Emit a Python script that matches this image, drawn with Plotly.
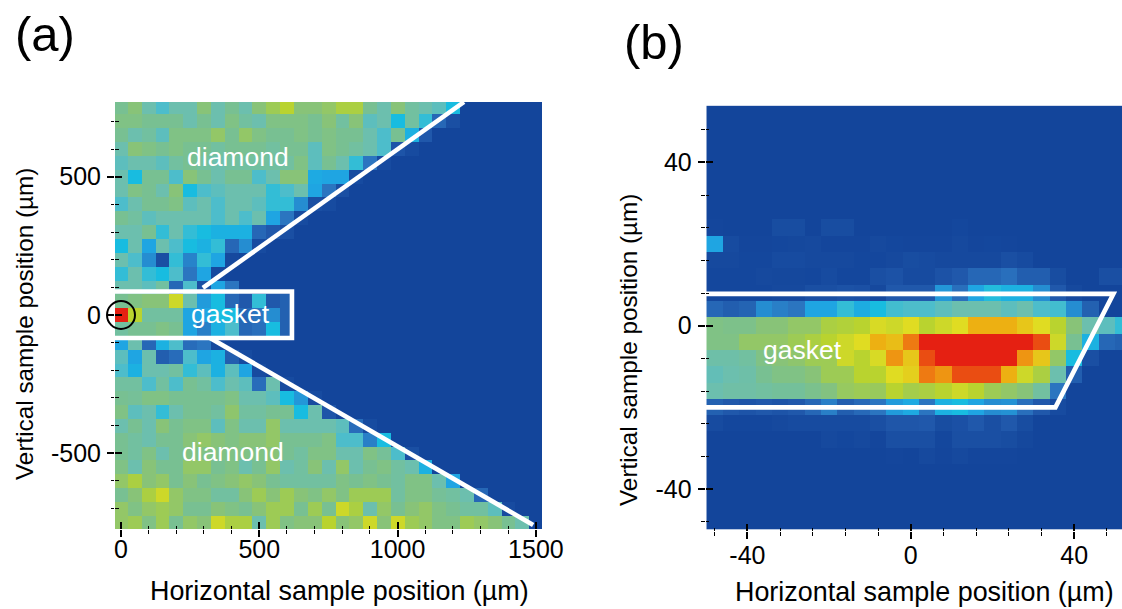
import plotly.graph_objects as go

# ---------- colour scale (value -> colour) ----------
scale_values = [0, 1, 2, 3, 4, 5, 6, 7, 8, 9, 10, 11, 12, 13, 14]
scale_colors = ["#13459B", "#2058AB", "#2B75C0", "#1FA5E2", "#18BCE0", "#4DBDCB", "#6CBFAE", "#78C092",
                "#88C378", "#9DCB55", "#B9D32F", "#E0DC22", "#EDB012", "#EE7A12", "#E52012"]

# ---------- panel (a) ----------
a_x = list(range(0, 1550, 50))
a_y = list(range(750, -800, -50))
a_rows = [
    [7, 8, 6, 5, 6, 6, 8, 6, 7, 6, 8, 9, 10, 8, 8, 8.5, 9.5, 9.5, 7, 6, 8, 6.5, 6, 5.5, 4],
    [7.5, 7.5, 7, 7, 7, 6, 7, 6, 7.5, 6.5, 6, 7.5, 7.5, 7.5, 7, 8, 6.5, 8, 5.5, 6, 4, 6.5, 4.5, 1.5, 0.5],
    [7, 6, 6.5, 5.5, 7.5, 7.5, 7.5, 8.5, 7, 8.5, 7.5, 7, 7, 7.5, 7, 7.5, 7, 7, 6, 5, 7, 3.5, 1],
    [6, 8, 7.5, 7, 7.5, 7, 7, 6.5, 7, 7, 7, 6.5, 7, 7, 5.5, 7.5, 7, 6.5, 6, 5, 0.8, 0.3],
    [5.5, 6, 6, 5.5, 6.5, 7, 6.5, 6, 6.5, 6.5, 6.5, 6.5, 6.5, 7.5, 5.5, 7, 6, 4.5, 2, 0.3],
    [6, 4, 7, 7, 5, 8, 7, 6, 7, 7, 5, 6, 8, 8, 3.2, 3, 3, 0.3],
    [6, 7.5, 7, 6, 8, 4, 5, 5.5, 6, 6, 6, 4.5, 5, 6, 3, 2, 0.5],
    [5, 6, 7, 7, 7.5, 5.5, 6, 5, 6, 6, 5.5, 4.5, 4.5, 2.5, 0.5, 0.3],
    [7, 6.5, 5.5, 6, 6, 6, 6, 5, 6, 5, 6, 3, 2, 0.3],
    [6, 6, 7, 4.5, 6, 4.5, 4, 3.5, 3.5, 3.5, 1.5, 1, 0.5],
    [4, 6, 3, 6, 5, 4, 3.5, 4.5, 1.5, 2.5, 0.3],
    [6, 5, 2.5, 0.5, 4.5, 2.3, 4.5, 3, 0.2],
    [4.5, 6, 4.5, 4, 5, 2, 3, 0.2],
    [6, 6, 5.5, 6.5, 1.5, 5, 0.5, 3, 2],
    [7, 7.5, 8, 8, 10.5, 6, 2.8, 4, 1.5, 1, 4.5, 1, 1.3],
    [14, 10, 6.5, 6.5, 6.5, 3, 3, 4, 4, 1.5, 2, 2.5, 1.3],
    [6.5, 7, 7, 7.5, 7, 3, 2.2, 3.5, 5, 1.5, 1.8, 4, 1.3],
    [3, 6, 1.5, 3.5, 5, 1.7, 2, 0.2],
    [5.5, 3, 6, 1.2, 1.7, 5, 3, 3.5, 1.2, 0.3],
    [5, 3.5, 6, 6, 6.5, 4.5, 5.5, 3.5, 5.5, 3, 0.3],
    [6.5, 6.5, 5, 6.5, 5, 7, 6.5, 5, 6, 5.5, 1.7, 6, 0.3],
    [7, 6.8, 7.5, 7.5, 7, 7, 7, 7, 7.5, 6, 6, 5.5, 4, 2.7, 0.3],
    [7.5, 5.5, 6, 4.5, 6, 7, 7, 6.5, 8.3, 6.5, 6.5, 7, 7, 4, 6, 0.8],
    [6, 7, 6, 8, 7, 7.5, 7.5, 5.5, 7.5, 6, 6, 8.5, 6, 6, 6, 6, 5.5, 1.7, 0.3],
    [7, 6.5, 6, 7, 7, 8, 8.5, 8, 7.5, 8, 8, 8.5, 7, 7, 7, 7.5, 5, 5, 2.2, 4],
    [7, 6.5, 7.5, 6, 7, 7.5, 7.5, 7.5, 7.5, 7.5, 7.5, 8, 7, 6.5, 7.5, 7.5, 6, 6, 7.5, 6.8, 5, 0.5],
    [7.5, 6, 8, 7, 7, 8.5, 8.5, 7, 7.5, 6, 7, 8.5, 6, 6.5, 8, 6, 8.5, 6, 7, 7.5, 6.5, 6, 3.5],
    [8.5, 9.5, 8, 8.5, 7, 8, 7, 7.5, 8, 8.5, 8, 7, 6.5, 6.5, 6.5, 6.5, 7.5, 7, 7.5, 7, 6.5, 7.5, 7.5, 6, 3],
    [7, 8, 9.5, 10.5, 8.5, 7.5, 7.5, 6.5, 6.5, 8, 9, 8, 9, 8, 7.5, 8.5, 7.5, 9, 9, 9, 6.5, 7.5, 7.5, 6.8, 6.5, 6, 1.5],
    [8.5, 7.5, 8.5, 9, 8.5, 7, 7, 8, 7.5, 7, 8, 9, 9, 7, 9, 7, 10.5, 9.5, 6, 8.5, 7, 8, 8.5, 7.5, 7, 6.5, 6.5, 5.5, 0.3],
    [8.5, 9, 7.5, 9, 7, 8.5, 8, 10.5, 9.5, 9.5, 6, 9, 7.5, 8, 8, 10, 8, 8.5, 10.5, 8, 10.5, 9, 8.5, 7.5, 7.5, 9, 8.5, 8, 7, 6],
]
a_z = [row + [0] * (31 - len(row)) for row in a_rows]

a_upper_x = [296, 1240]
a_upper_y = [98, 770]
a_box_x = [-21.7, 618, 618, -21.7]
a_box_y = [85, 85, -83, -83]
a_lower_x = [322, 1490]
a_lower_y = [-83, -759]
a_circle_x = [0]
a_circle_y = [0]

a_xticks = [0, 500, 1000, 1500]
a_xticklabels = ["0", "500", "1000", "1500"]
a_xminor = [100, 200, 300, 400, 600, 700, 800, 900, 1100, 1200, 1300, 1400]
a_yticks = [-500, 0, 500]
a_yticklabels = ["-500", "0", "500"]
a_yminor = [-700, -600, -400, -300, -200, -100, 100, 200, 300, 400, 600, 700]

# ---------- panel (b) ----------
b_x = list(range(-48, 56, 4))
b_y = list(range(52, -52, -4))
b_rows = [
    [],
    [],
    [],
    [],
    [],
    [],
    [],
    [0.05, 0, 0, 0, 0.4, 0.4, 0, 0.4, 0.4, 0, 0, 0, 0, 0, 0, 0.1],
    [3, 0.3, 0.05, 0.05, 0.1, 0.15, 0.2, 0.05, 0.05, 0.05, 0.2, 0.1, 0.05, 0.05, 0.05, 0.2, 0.05, 0.1, 0.05],
    [0.2, 0.2, 0.1, 0.1, 0.3, 0.3, 0.2, 0.2, 0.2, 0.1, 0.1, 0.2, 0.4, 0.3, 0.2, 0.2, 0.2, 0.2, 0.5, 0.3],
    [0.1, 0.1, 0.1, 0.2, 0.15, 0.15, 0.1, 0.3, 0.1, 0.1, 0.5, 0.7, 0.3, 0.3, 0.7, 1, 1.5, 1.5, 1.8, 1.2, 1.2, 0.4, 0, 0, 0.5, 0.5],
    [0.1, 0.1, 0.1, 0.1, 0.2, 0.2, 0.5, 0.5, 0.7, 0.6, 0.2, 1, 1, 1, 2.7, 1.8, 3, 4.2, 3.5, 3.5, 2.5, 1, 0.2],
    [1.5, 1.2, 1.4, 2.5, 2.2, 2, 3, 3, 4.5, 3.3, 4, 4.8, 5, 5, 5.5, 6, 6, 6, 5.5, 6, 5, 4.8, 2.5, 1.3],
    [7.5, 7.3, 7.3, 8, 8, 8.5, 8.5, 9.5, 9.7, 10, 10.8, 10.5, 11, 10, 10.5, 11, 12, 12, 12, 11.5, 11, 10, 8, 6, 5.5, 4.5],
    [7.5, 7.5, 8.5, 8.5, 8.5, 9, 9.5, 10, 10.5, 11, 12, 11.7, 13, 14, 14, 14, 14, 14, 14, 14, 13.5, 10.5, 7, 3.5, 1.5, 1.3],
    [6.2, 6.2, 6.5, 7.5, 8, 8.3, 9, 9, 10.5, 10, 10.8, 12.5, 11.5, 13.5, 14, 14, 14, 14, 14, 12.5, 11.5, 8.5, 4, 0.5],
    [5.7, 6, 6.2, 7, 7.5, 7.5, 8, 9, 9, 10, 10, 11, 11.3, 13, 12.5, 13.5, 13.5, 13.5, 12, 10.5, 9.5, 6, 1.2],
    [6, 6.3, 6.3, 6.5, 6.7, 6.7, 7.2, 7.7, 8.7, 9, 8.8, 10, 9.3, 9.5, 10, 10.5, 10, 9, 8.5, 8, 6.5, 2],
    [1.3, 1, 0.8, 1, 0.8, 1, 1.5, 2.2, 1.2, 1.6, 2, 2.8, 3.2, 2, 3.5, 4, 3, 2.5, 2.6, 1.8, 1, 0.3],
    [0.3, 0.1, 0.1, 0.1, 0.2, 0.3, 0.3, 0.3, 0.3, 0.3, 0.5, 0.9, 0.9, 1, 0.4, 0.6, 1, 0.5, 1, 0.4],
    [0, 0, 0, 0, 0, 0, 0, 0.2, 0.1, 0.2, 0.05, 0.5, 0.5, 0.5, 0.1, 0.5, 0.5, 0.5, 0.4, 0.15],
    [0, 0, 0, 0, 0, 0, 0, 0, 0, 0, 0, 0.05, 0, 0.2, 0.05, 0.2, 0.05, 0.05, 0.05],
    [],
    [],
    [],
    [],
]
b_z = [row + [0] * (26 - len(row)) for row in b_rows]

b_outline_x = [-50.2, 49.6, 35.4, -50.2]
b_outline_y = [7.8, 7.8, -20, -20]

b_xticks = [-40, 0, 40]
b_xticklabels = ["-40", "0", "40"]
b_xminor = [-48, -32, -24, -16, -8, 8, 16, 24, 32, 48]
b_yticks = [-40, 0, 40]
b_yticklabels = ["-40", "0", "40"]
b_yminor = [-48, -32, -24, -16, -8, 8, 16, 24, 32, 48]

# ---------- layout geometry ----------
W, H = 1122, 609
FONT = "Liberation Sans"
colorscale = [[v / scale_values[-1], c] for v, c in zip(scale_values, scale_colors)]
a_dom_x = [115 / W, 542 / W]
a_dom_y = [1 - 529 / H, 1 - 102 / H]
b_dom_x = [705.7 / W, 1]
b_dom_y = [1 - 531 / H, 1 - 105.7 / H]
a_rx, a_ry = [-21.7, 1522], [-773.7, 770]
b_rx, b_ry = [-50.2, 51.7], [-50.3, 53.9]

fig = go.Figure()
fig.add_trace(go.Heatmap(x=a_x, y=a_y, z=a_z, colorscale=colorscale, zmin=0, zmax=14, showscale=False,
                         xaxis="x", yaxis="y", hoverinfo="skip"))
fig.add_trace(go.Heatmap(x=b_x, y=b_y, z=b_z, colorscale=colorscale, zmin=0, zmax=14, showscale=False,
                         xaxis="x2", yaxis="y2", hoverinfo="skip"))

white = dict(color="white", width=4.6)
for xs, ys in [(a_upper_x, a_upper_y), (a_box_x, a_box_y), (a_lower_x, a_lower_y)]:
    fig.add_trace(go.Scatter(x=xs, y=ys, mode="lines", line=white, xaxis="x3", yaxis="y3",
                             showlegend=False, hoverinfo="skip"))
fig.add_trace(go.Scatter(x=a_circle_x, y=a_circle_y, mode="markers", xaxis="x3", yaxis="y3",
                         marker=dict(symbol="circle-open", size=28, color="black", line=dict(color="black", width=2)),
                         showlegend=False, hoverinfo="skip", cliponaxis=False))
fig.add_trace(go.Scatter(x=b_outline_x, y=b_outline_y, mode="lines", line=white, xaxis="x4", yaxis="y4",
                         showlegend=False, hoverinfo="skip"))


def axis(dom, rng, ticks, labels, minor, side, anchor, standoff, overlay=None):
    # the labelled axis draws the inner half of each tick, the overlay axis the outer half
    d = dict(domain=dom, range=rng, side=side, anchor=anchor, showgrid=False, zeroline=False, showline=False,
             tickmode="array", tickvals=ticks, ticklen=7, tickwidth=2, tickcolor="black",
             minor=dict(tickmode="array", tickvals=minor, ticklen=3.5, tickwidth=1.4, tickcolor="black",
                        showgrid=False, ticks="outside" if overlay else "inside"))
    if overlay:
        d.update(overlaying=overlay, ticks="outside", showticklabels=False)
    else:
        d.update(ticks="inside", ticktext=labels, ticklabelstandoff=standoff,
                 tickfont=dict(family=FONT, size=25, color="black"))
    return d


layout_axes = dict(
    xaxis=axis(a_dom_x, a_rx, a_xticks, a_xticklabels, a_xminor, "bottom", "y", 3),
    yaxis=axis(a_dom_y, a_ry, a_yticks, a_yticklabels, a_yminor, "left", "x", 13),
    xaxis2=axis(b_dom_x, b_rx, b_xticks, b_xticklabels, b_xminor, "bottom", "y2", 7),
    yaxis2=axis(b_dom_y, b_ry, b_yticks, b_yticklabels, b_yminor, "left", "x2", 13),
    xaxis3=axis(a_dom_x, a_rx, a_xticks, a_xticklabels, a_xminor, "bottom", "y3", 0, overlay="x"),
    yaxis3=axis(a_dom_y, a_ry, a_yticks, a_yticklabels, a_yminor, "left", "x3", 0, overlay="y"),
    xaxis4=axis(b_dom_x, b_rx, b_xticks, b_xticklabels, b_xminor, "bottom", "y4", 0, overlay="x2"),
    yaxis4=axis(b_dom_y, b_ry, b_yticks, b_yticklabels, b_yminor, "left", "x4", 0, overlay="y2"),
)


def px_text(text, x, y, size, color="black", angle=0):
    return dict(text=text, x=x / W, y=1 - y / H, xref="paper", yref="paper", xanchor="center", yanchor="middle",
                showarrow=False, textangle=angle, font=dict(family=FONT, size=size, color=color))


annotations = [
    px_text("(a)", 45, 34, 49),
    px_text("(b)", 654, 42, 49),
    px_text("diamond", 238, 157, 26.5, "white"),
    px_text("diamond", 233, 452, 26.5, "white"),
    px_text("gasket", 230, 314, 26.5, "white"),
    px_text("gasket", 802, 350, 26.5, "white"),
    px_text("Horizontal sample position (µm)", 339, 591, 26.9),
    px_text("Horizontal sample position (µm)", 924, 592, 26.9),
    px_text("Vertical sample position (µm)", 24, 324, 24.3, angle=-90),
    px_text("Vertical sample position (µm)", 628, 350, 24.3, angle=-90),
]

fig.update_layout(width=W, height=H, margin=dict(l=0, r=0, t=0, b=0, autoexpand=False), paper_bgcolor="white",
                  plot_bgcolor="white", showlegend=False, annotations=annotations, **layout_axes)

fig.write_html("out.html", config=dict(displayModeBar=False),
               post_script="document.body.style.margin='0';document.documentElement.style.overflow='hidden';")
